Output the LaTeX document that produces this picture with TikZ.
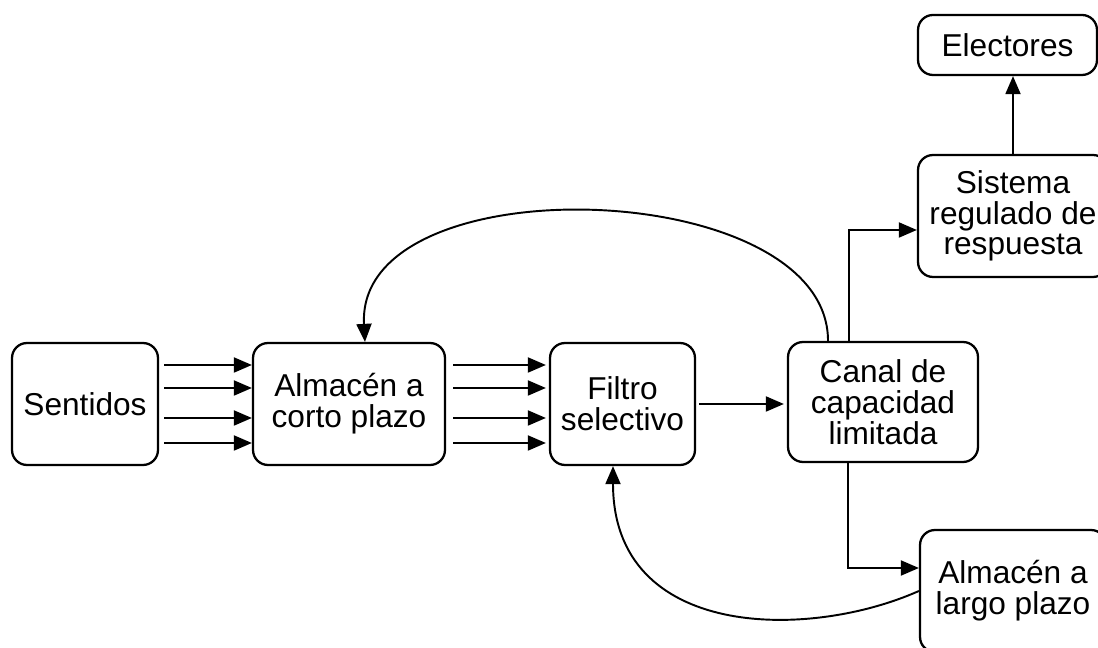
\documentclass[tikz,border=0pt]{standalone}
\usepackage{fontspec}
\setmainfont{Liberation Sans}
\usetikzlibrary{arrows.meta}

\begin{document}
\begin{tikzpicture}[x=0.02cm,y=0.02cm,
        caja/.style={draw, line width=1.3pt, rounded corners=0.3cm, align=center, inner sep=0pt,
            font=\fontsize{18}{17.5}\selectfont},
        >={Triangle[length=0.36cm,width=0.3cm]}, line width=1.1pt]
    \useasboundingbox (0,0) rectangle (1098,648);
    \clip (0,0) rectangle (1098,648);

    \node[caja, minimum width=2.92cm, minimum height=2.44cm] (sent) at (85,244) {Sentidos};
    \node[caja, minimum width=3.84cm, minimum height=2.44cm] (corto) at (349,244) {Almacén a\\corto plazo};
    \node[caja, minimum width=2.9cm, minimum height=2.44cm] (filtro) at (622.5,244) {Filtro\\selectivo};
    \node[caja, minimum width=3.8cm, minimum height=2.4cm] (canal) at (883,246) {Canal de\\capacidad\\limitada};
    \node[caja, minimum width=3.8cm, minimum height=2.44cm] (sis) at (1013,432) {Sistema\\regulado de\\respuesta};
    \node[caja, minimum width=3.58cm, minimum height=1.2cm] (elec) at (1007.5,603) {Electores};
    \node[caja, minimum width=3.72cm, minimum height=2.44cm] (largo) at (1013,57) {Almacén a\\largo plazo};

    \foreach \d in {39,16,-14,-39} {
        \draw[->, shorten <=0.1cm] ([yshift=\d*0.02cm]sent.east) to ([yshift=\d*0.02cm]corto.west);
        \draw[->, shorten <=0.14cm, shorten >=0.06cm] ([yshift=\d*0.02cm]corto.east) to ([yshift=\d*0.02cm]filtro.west);
    }
    \draw[->, shorten <=0.06cm, shorten >=0.06cm] (filtro.east) to (filtro.east -| canal.west);
    \draw[->] ([xshift=-0.68cm]canal.north) |- ([yshift=-0.28cm]sis.west);
    \draw[->] ([xshift=-0.7cm]canal.south) |- ([yshift=0.46cm]largo.west);
    \draw[->] (sis.north) to (sis.north |- elec.south);
    \draw[->] ([xshift=-1.1cm]canal.north) .. controls +(0,165) and +(-10,180) .. ([xshift=0.32cm]corto.north);
    \draw[->] (largo.west) .. controls +(-110,-49) and +(0,-174) .. ([xshift=-0.19cm]filtro.south);
\end{tikzpicture}
\end{document}
